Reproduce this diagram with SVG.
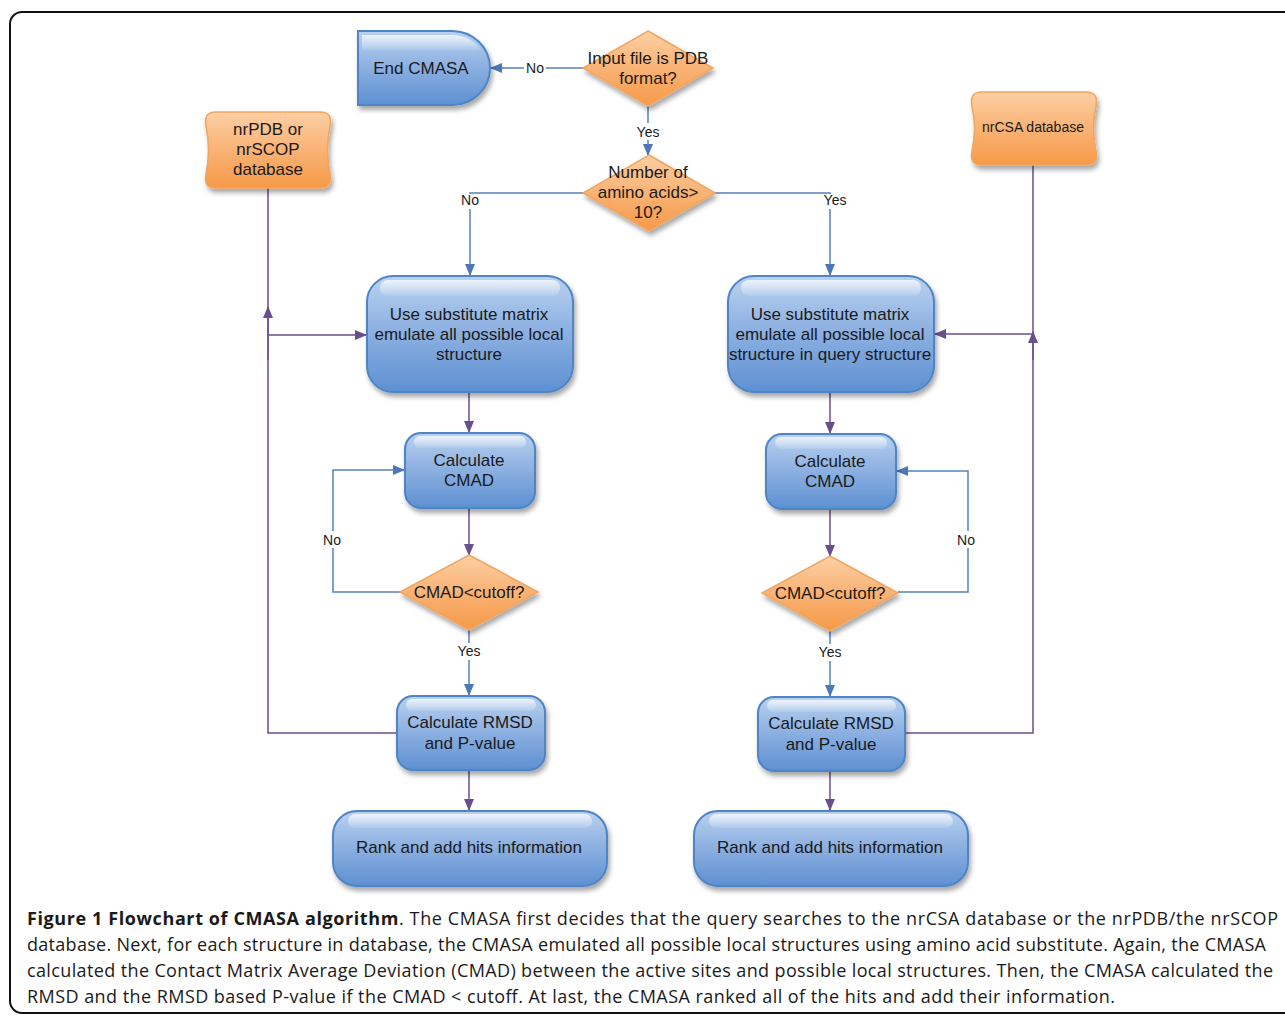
<svg xmlns="http://www.w3.org/2000/svg" width="1285" height="1016" viewBox="0 0 1285 1016">
<defs>
<linearGradient id="gBlue" x1="0" y1="0" x2="0" y2="1">
<stop offset="0" stop-color="#b9d2f0"/>
<stop offset="0.45" stop-color="#8fb2e2"/>
<stop offset="1" stop-color="#5e90d2"/>
</linearGradient>
<linearGradient id="gOrange" x1="0" y1="0" x2="0" y2="1">
<stop offset="0" stop-color="#fdd0a4"/>
<stop offset="0.5" stop-color="#f9b274"/>
<stop offset="1" stop-color="#f69a48"/>
</linearGradient>
<linearGradient id="gHi" x1="0" y1="0" x2="0" y2="1">
<stop offset="0" stop-color="#ffffff" stop-opacity="0.75"/>
<stop offset="1" stop-color="#ffffff" stop-opacity="0.1"/>
</linearGradient>
<filter id="sh" x="-10%" y="-10%" width="125%" height="130%">
<feGaussianBlur in="SourceAlpha" stdDeviation="2.5"/>
<feOffset dx="2" dy="4" result="b"/>
<feComponentTransfer><feFuncA type="linear" slope="0.35"/></feComponentTransfer>
<feMerge><feMergeNode/><feMergeNode in="SourceGraphic"/></feMerge>
</filter>
<marker id="aB" markerWidth="12" markerHeight="10" refX="11" refY="5" orient="auto" markerUnits="userSpaceOnUse">
<path d="M0,0 L12,5 L0,10 Z" fill="#4a78b8"/>
</marker>
<marker id="aP" markerWidth="12" markerHeight="10" refX="11" refY="5" orient="auto" markerUnits="userSpaceOnUse">
<path d="M0,0 L12,5 L0,10 Z" fill="#6a4f8f"/>
</marker>
</defs>
<style>
.blue{fill:url(#gBlue);stroke:#4f84c6;stroke-width:2;filter:url(#sh)}
.orange{fill:url(#gOrange);stroke:#f2a55e;stroke-width:1.5;filter:url(#sh)}
.hi{fill:url(#gHi);stroke:none}
.t{font-family:"Liberation Sans",Arial,sans-serif;font-size:17px;fill:#1a1a1a;text-anchor:middle}
.ts{font-family:"Liberation Sans",Arial,sans-serif;font-size:14px;fill:#1a1a1a;text-anchor:middle}
.lb{fill:none;stroke:#5580bd;stroke-width:1.5}
.lp{fill:none;stroke:#6a4f8f;stroke-width:1.5}
.cap{font-family:"Open Sans","DejaVu Sans",sans-serif;font-size:18px;fill:#1a1a1a}
</style>
<rect x="0" y="0" width="1285" height="1016" fill="#ffffff"/>
<rect x="10" y="12" width="1300" height="1001" rx="12" fill="none" stroke="#111" stroke-width="2"/>

<g id="connectors">
<path class="lb" d="M583,68 H491" marker-end="url(#aB)"/>
<rect x="524" y="59" width="22" height="17" fill="#fff"/>
<text class="ts" x="535" y="73">No</text>
<path class="lb" d="M648,106 V155" marker-end="url(#aB)"/>
<rect x="633" y="123" width="30" height="17" fill="#fff"/>
<text class="ts" x="648" y="137">Yes</text>
<path class="lb" d="M583,193 H470 V275" marker-end="url(#aB)"/>
<rect x="459" y="194" width="22" height="15" fill="#fff"/>
<text class="ts" x="470" y="205">No</text>
<path class="lb" d="M715,193 H830 V275" marker-end="url(#aB)"/>
<rect x="820" y="194" width="30" height="15" fill="#fff"/>
<text class="ts" x="835" y="205">Yes</text>

<path class="lp" d="M469,392 V432" marker-end="url(#aP)"/>
<path class="lp" d="M469,508 V555" marker-end="url(#aP)"/>
<path class="lb" d="M400,592 H333 V470 H404" marker-end="url(#aB)"/>
<rect x="321" y="531" width="22" height="17" fill="#fff"/>
<text class="ts" x="332" y="545">No</text>
<path class="lb" d="M469,630 V695" marker-end="url(#aB)"/>
<rect x="454" y="643" width="30" height="17" fill="#fff"/>
<text class="ts" x="469" y="656">Yes</text>
<path class="lp" d="M469,770 V810" marker-end="url(#aP)"/>

<path class="lp" d="M830,392 V433" marker-end="url(#aP)"/>
<path class="lp" d="M830,509 V556" marker-end="url(#aP)"/>
<path class="lb" d="M898,592 H968 V471 H897" marker-end="url(#aB)"/>
<rect x="955" y="531" width="22" height="17" fill="#fff"/>
<text class="ts" x="966" y="545">No</text>
<path class="lb" d="M830,631 V696" marker-end="url(#aB)"/>
<rect x="815" y="644" width="30" height="17" fill="#fff"/>
<text class="ts" x="830" y="657">Yes</text>
<path class="lp" d="M830,771 V810" marker-end="url(#aP)"/>

<path class="lp" d="M268,188 V733 H397"/>
<path class="lp" d="M268,360 V307" marker-end="url(#aP)"/>
<path class="lp" d="M268,335 H366" marker-end="url(#aP)"/>
<path class="lp" d="M1033,165 V733 H905"/>
<path class="lp" d="M1033,360 V332" marker-end="url(#aP)"/>
<path class="lp" d="M1033,334 H935" marker-end="url(#aP)"/>
</g>

<g id="end-cmasa">
<path class="blue" d="M358,31 H452 A38,37 0 0 1 452,105 H358 Z"/>
<path class="hi" d="M362,35 H452 A30,20 0 0 1 480,50 H362 Z"/>
<text class="t" x="421" y="74">End CMASA</text>
</g>

<g id="input-pdb">
<path class="orange" d="M648,31 L713,68 L648,106 L583,68 Z"/>
<text class="t" x="648" y="64">Input file is PDB</text>
<text class="t" x="648" y="84">format?</text>
</g>

<g id="num-amino">
<path class="orange" d="M649,155 L715,193 L649,231 L583,193 Z"/>
<text class="t" x="648" y="178">Number of</text>
<text class="t" x="648" y="198">amino acids&gt;</text>
<text class="t" x="648" y="218">10?</text>
</g>

<g id="db-left">
<path class="orange" d="M216,112 H320 Q333,112 330,126 Q325,150 330,174 Q333,188 320,188 H216 Q203,188 206,174 Q211,150 206,126 Q203,112 216,112 Z"/>
<text class="t" x="268" y="135">nrPDB or</text>
<text class="t" x="268" y="155">nrSCOP</text>
<text class="t" x="268" y="175">database</text>
</g>

<g id="db-right">
<path class="orange" d="M982,92 H1086 Q1099,92 1096,106 Q1091,128 1096,151 Q1099,165 1086,165 H982 Q969,165 972,151 Q977,128 972,106 Q969,92 982,92 Z"/>
<text class="t" x="1033" y="132" style="font-size:14px">nrCSA database</text>
</g>

<g id="emulate-left">
<rect class="blue" x="367" y="276" width="206" height="116" rx="26"/>
<rect class="hi" x="380" y="280" width="180" height="16" rx="8"/>
<text class="t" x="469" y="320">Use substitute matrix</text>
<text class="t" x="469" y="340">emulate all possible local</text>
<text class="t" x="469" y="360">structure</text>
</g>

<g id="emulate-right">
<rect class="blue" x="728" y="276" width="206" height="116" rx="26"/>
<rect class="hi" x="741" y="280" width="180" height="16" rx="8"/>
<text class="t" x="830" y="320">Use substitute matrix</text>
<text class="t" x="830" y="340">emulate all possible local</text>
<text class="t" x="830" y="360">structure in query structure</text>
</g>

<g id="cmad-left">
<rect class="blue" x="405" y="433" width="130" height="75" rx="16"/>
<rect class="hi" x="414" y="436" width="112" height="12" rx="6"/>
<text class="t" x="469" y="466">Calculate</text>
<text class="t" x="469" y="486">CMAD</text>
</g>

<g id="cmad-right">
<rect class="blue" x="766" y="434" width="130" height="75" rx="16"/>
<rect class="hi" x="775" y="437" width="112" height="12" rx="6"/>
<text class="t" x="830" y="467">Calculate</text>
<text class="t" x="830" y="487">CMAD</text>
</g>

<g id="cutoff-left">
<path class="orange" d="M469,555 L538,592 L469,630 L400,592 Z"/>
<text class="t" x="469" y="598">CMAD&lt;cutoff?</text>
</g>

<g id="cutoff-right">
<path class="orange" d="M830,556 L898,593 L830,631 L762,593 Z"/>
<text class="t" x="830" y="599">CMAD&lt;cutoff?</text>
</g>

<g id="rmsd-left">
<rect class="blue" x="397" y="696" width="148" height="74" rx="16"/>
<rect class="hi" x="406" y="699" width="130" height="12" rx="6"/>
<text class="t" x="470" y="728">Calculate RMSD</text>
<text class="t" x="470" y="749">and P-value</text>
</g>

<g id="rmsd-right">
<rect class="blue" x="758" y="697" width="147" height="74" rx="16"/>
<rect class="hi" x="767" y="700" width="129" height="12" rx="6"/>
<text class="t" x="831" y="729">Calculate RMSD</text>
<text class="t" x="831" y="750">and P-value</text>
</g>

<g id="rank-left">
<rect class="blue" x="333" y="811" width="274" height="75" rx="24"/>
<rect class="hi" x="348" y="814" width="244" height="14" rx="7"/>
<text class="t" x="469" y="853">Rank and add hits information</text>
</g>

<g id="rank-right">
<rect class="blue" x="694" y="811" width="274" height="75" rx="24"/>
<rect class="hi" x="709" y="814" width="244" height="14" rx="7"/>
<text class="t" x="830" y="853">Rank and add hits information</text>
</g>

<g id="caption">
<text class="cap" x="27" y="925" textLength="1251" lengthAdjust="spacing"><tspan font-weight="bold">Figure 1 Flowchart of CMASA algorithm</tspan>. The CMASA first decides that the query searches to the nrCSA database or the nrPDB/the nrSCOP</text>
<text class="cap" x="27" y="951" textLength="1239" lengthAdjust="spacing">database. Next, for each structure in database, the CMASA emulated all possible local structures using amino acid substitute. Again, the CMASA</text>
<text class="cap" x="27" y="977" textLength="1246" lengthAdjust="spacing">calculated the Contact Matrix Average Deviation (CMAD) between the active sites and possible local structures. Then, the CMASA calculated the</text>
<text class="cap" x="27" y="1003" textLength="1088" lengthAdjust="spacing">RMSD and the RMSD based P-value if the CMAD &lt; cutoff. At last, the CMASA ranked all of the hits and add their information.</text>
</g>
</svg>
